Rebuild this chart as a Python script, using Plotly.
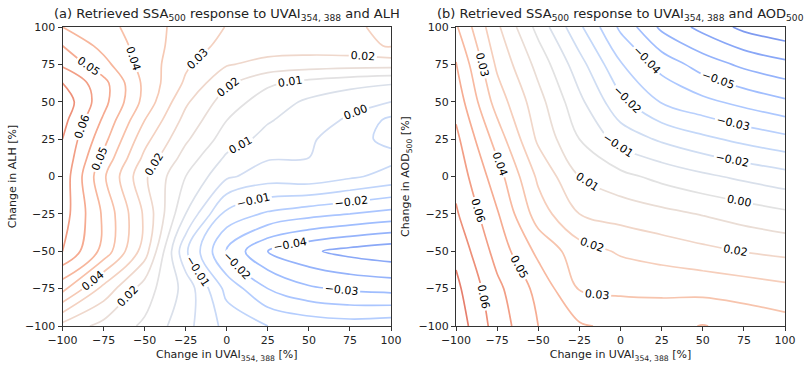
import plotly.graph_objects as go

# Percentage changes applied to the inputs (grid nodes)
uvai_change = [-100, -75, -50, -25, 0, 25, 50, 75, 100]
alh_change = [-100, -75, -50, -25, 0, 12.5, 25, 37.5, 50, 62.5, 75, 87.5, 100]
aod_change = [-100, -75, -50, -25, 0, 25, 50, 75, 100]
tick_vals = [-100, -75, -50, -25, 0, 25, 50, 75, 100]

# Retrieved SSA500 response, rows follow ALH change (bottom to top), columns UVAI change
ssa_vs_alh = [
    [0.022, 0.016, 0.011, 0.002, -0.008, -0.012, -0.014, -0.015, -0.014],
    [0.044, 0.028, 0.015, 0.004, -0.014, -0.024, -0.029, -0.031, -0.032],
    [0.060, 0.046, 0.027, -0.005, -0.025, -0.036, -0.041, -0.044, -0.046],
    [0.063, 0.047, 0.029, 0.006, -0.014, -0.019, -0.022, -0.024, -0.026],
    [0.064, 0.043, 0.025, 0.012, 0.001, -0.003, -0.002, -0.005, -0.008],
    [0.065, 0.0465, 0.0285, 0.0155, 0.005, 0.0005, 0.000, -0.004, -0.0045],
    [0.066, 0.050, 0.032, 0.019, 0.009, 0.004, 0.001, -0.004, -0.0075],
    [0.068, 0.053, 0.036, 0.022, 0.012, 0.0065, 0.003, -0.001, -0.0075],
    [0.070, 0.056, 0.040, 0.025, 0.015, 0.009, 0.005, 0.002, 0.000],
    [0.066, 0.056, 0.0405, 0.029, 0.019, 0.013, 0.010, 0.008, 0.0065],
    [0.059, 0.050, 0.0395, 0.031, 0.0245, 0.022, 0.021, 0.0205, 0.0205],
    [0.054, 0.046, 0.0395, 0.0325, 0.0285, 0.027, 0.027, 0.028, 0.0305],
    [0.048, 0.044, 0.039, 0.0335, 0.0298, 0.0275, 0.027, 0.028, 0.033],
]

# Retrieved SSA500 response, rows follow AOD500 change (bottom to top), columns UVAI change
ssa_vs_aod = [
    [0.077, 0.0604, 0.048, 0.041, 0.038, 0.038, 0.0403, 0.038, 0.0355],
    [0.074, 0.058, 0.0455, 0.0315, 0.0305, 0.030, 0.0295, 0.028, 0.026],
    [0.070, 0.053, 0.038, 0.0275, 0.023, 0.0205, 0.018, 0.0157, 0.014],
    [0.065, 0.0488, 0.028, 0.016, 0.013, 0.0103, 0.0075, 0.0045, 0.0016],
    [0.0614, 0.0436, 0.0224, 0.008, 0.0023, -0.0024, -0.0064, -0.0098, -0.0129],
    [0.058, 0.0366, 0.0145, 0.000, -0.0112, -0.0173, -0.0221, -0.0262, -0.0298],
    [0.053, 0.0285, 0.011, -0.006, -0.022, -0.0326, -0.0379, -0.0425, -0.0467],
    [0.0485, 0.0225, 0.0053, -0.0128, -0.0313, -0.043, -0.0517, -0.0578, -0.062],
    [0.041, 0.0175, -0.0027, -0.0224, -0.0416, -0.0578, -0.0665, -0.074, -0.078],
]

# Contour levels (start, end, step) and colour-normalisation range for each panel
alh_levels = (-0.042, 0.072, 0.006)
alh_norm = (-0.075, 0.105)
aod_levels = (-0.072, 0.072, 0.008)
aod_norm = (-0.1, 0.1)

# coolwarm colour map nodes (evenly spaced from 0 to 1)
coolwarm_nodes = [
    (59, 76, 192), (77, 104, 215), (98, 130, 234), (119, 154, 247),
    (141, 176, 254), (163, 194, 255), (184, 208, 249), (204, 217, 238),
    (221, 221, 221), (236, 211, 197), (245, 196, 173), (247, 177, 148),
    (244, 154, 123), (236, 127, 99), (222, 96, 77), (203, 62, 56), (180, 4, 38),
]
line_alpha = 0.85


def coolwarm_at(t):
    t = min(max(t, 0.0), 1.0)
    pos = t * (len(coolwarm_nodes) - 1)
    i = min(int(pos), len(coolwarm_nodes) - 2)
    f = pos - i
    a, b = coolwarm_nodes[i], coolwarm_nodes[i + 1]
    c = [a[k] + (b[k] - a[k]) * f for k in range(3)]
    c = [line_alpha * v + (1 - line_alpha) * 255 for v in c]
    return "rgb(%d,%d,%d)" % tuple(round(v) for v in c)


def level_colorscale(levels, norm):
    start, end, step = levels
    vmin, vmax = norm
    count = int(round((end - start) / step))
    scale = []
    for k in range(count + 1):
        lev = start + k * step
        scale.append([k / count, coolwarm_at((lev - vmin) / (vmax - vmin))])
    return scale


font_family = "DejaVu Sans"
label_font = dict(size=11, color="black", family=font_family)

fig = go.Figure()

for xs, ys, zs, levels, norm, xa, ya in [
    (uvai_change, alh_change, ssa_vs_alh, alh_levels, alh_norm, "x", "y"),
    (uvai_change, aod_change, ssa_vs_aod, aod_levels, aod_norm, "x2", "y2"),
]:
    fig.add_trace(go.Contour(
        x=xs, y=ys, z=zs,
        colorscale=level_colorscale(levels, norm),
        zmin=levels[0], zmax=levels[1], showscale=False,
        contours=dict(start=levels[0], end=levels[1], size=levels[2],
                      coloring="lines", showlabels=True,
                      labelfont=label_font, labelformat=".2f"),
        line=dict(width=1.7),
        xaxis=xa, yaxis=ya, hoverinfo="skip",
    ))

axis_common = dict(
    range=[-100, 100], tickvals=tick_vals, ticks="outside", ticklen=4,
    tickcolor="#333", showline=True, linecolor="#333", linewidth=1, mirror=True,
    showgrid=False, zeroline=False, automargin=False,
    tickfont=dict(size=11, color="#222", family=font_family),
)
title_font = dict(size=11, color="#222", family=font_family)

y_dom = [1 - 326 / 365, 1 - 27 / 365]
fig.update_layout(
    width=804, height=365,
    margin=dict(l=0, r=0, t=0, b=0, autoexpand=False),
    paper_bgcolor="white", plot_bgcolor="white",
    showlegend=False,
    xaxis=dict(domain=[62.5 / 804, 391 / 804], anchor="y",
               title=dict(text="Change in UVAI<sub>354, 388</sub> [%]", font=title_font, standoff=4),
               **axis_common),
    yaxis=dict(domain=y_dom, anchor="x",
               title=dict(text="Change in ALH [%]", font=title_font, standoff=6),
               **axis_common),
    xaxis2=dict(domain=[456 / 804, 785 / 804], anchor="y2",
                title=dict(text="Change in UVAI<sub>354, 388</sub> [%]", font=title_font, standoff=4),
                **axis_common),
    yaxis2=dict(domain=y_dom, anchor="x2",
                title=dict(text="Change in AOD<sub>500</sub> [%]", font=title_font, standoff=6),
                **axis_common),
    annotations=[
        dict(text="(a) Retrieved SSA<sub>500</sub> response to UVAI<sub>354, 388</sub> and ALH",
             x=(62.5 + 391) / 2 / 804, y=1 - 15 / 365, xref="paper", yref="paper",
             xanchor="center", yanchor="middle",
             showarrow=False, font=dict(size=13, color="#222", family=font_family)),
        dict(text="(b) Retrieved SSA<sub>500</sub> response to UVAI<sub>354, 388</sub> and AOD<sub>500</sub>",
             x=(456 + 785) / 2 / 804, y=1 - 15 / 365, xref="paper", yref="paper",
             xanchor="center", yanchor="middle",
             showarrow=False, font=dict(size=13, color="#222", family=font_family)),
    ],
)

fig.write_html("out.html")
